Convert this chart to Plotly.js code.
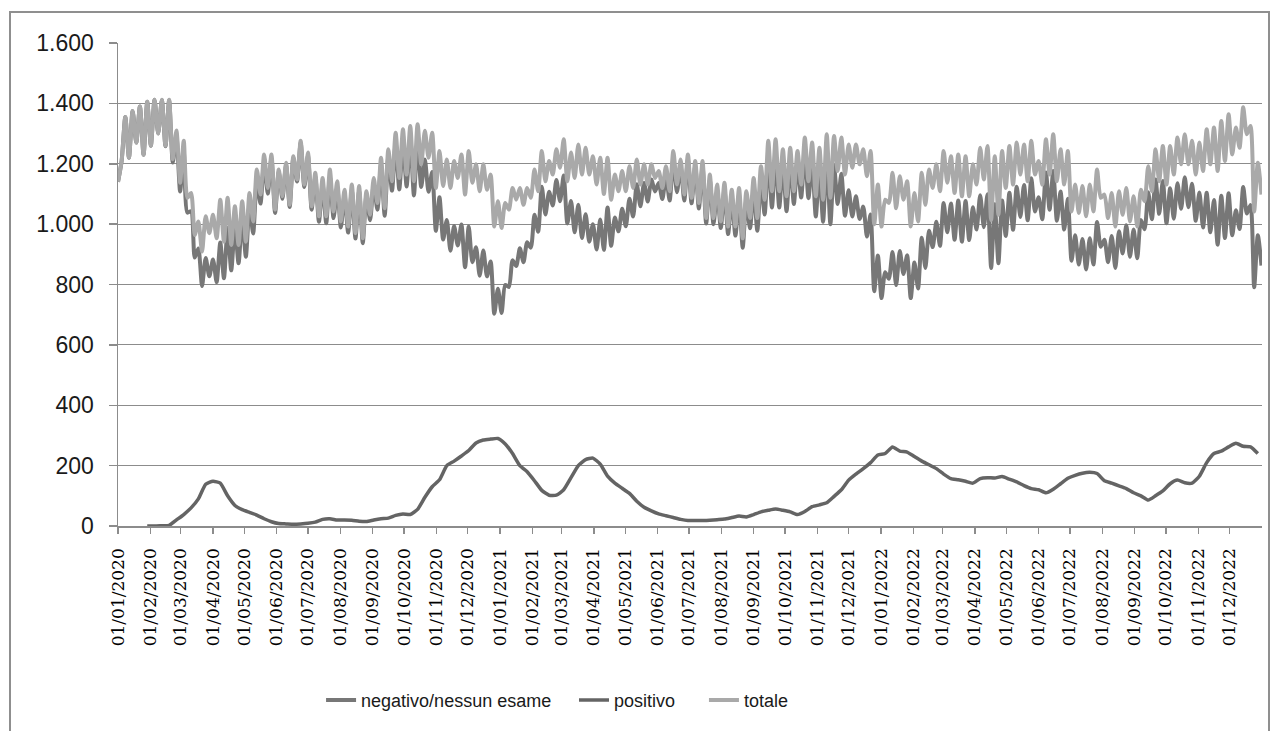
<!DOCTYPE html>
<html><head><meta charset="utf-8">
<script src="https://cdn.plot.ly/plotly-3.0.1.min.js"></script>
<style>
html,body{margin:0;padding:0;background:#fff;overflow:hidden}
#chart{position:absolute;left:0;top:0;width:1277px;height:731px}
#frame{position:absolute;left:9px;top:11px;width:1261px;height:760px;border:2px solid #8f8f8f;box-sizing:border-box;pointer-events:none}
</style>
</head><body>
<div id="chart"></div><div id="frame"></div>
<script>
// sampling: totale & negativo every 3.5 days from 01/01/2020 (weekly high / low), positivo weekly
const seriesStart = '2020-01-01';
const seriesStepDays = 3.5;
const positivoStart = '2020-01-29';
const positivoStepDays = 7;

const totale = [
1140,1210,1355,1220,1375,1270,1390,1230,1405,1260,1412,1300,1412,1260,1412,1215,1310,1137,1276,1087,
1103,964,1009,909,1026,970,1031,953,1081,942,1087,931,1059,931,1076,942,1103,1009,1181,1098,
1231,1120,1231,1048,1181,1092,1203,1064,1225,1148,1276,1131,1237,1059,1170,1026,1153,1026,1181,1042,
1142,1009,1114,992,1131,970,1126,953,1109,1031,1153,1070,1220,1053,1248,1142,1303,1153,1314,1164,
1325,1142,1331,1198,1309,1220,1303,1120,1242,1126,1214,1120,1209,1153,1231,1098,1242,1137,1198,1109,
1198,1114,1164,992,1076,987,1070,1048,1120,1081,1120,1064,1120,1087,1181,1109,1242,1142,1209,1164,
1248,1187,1281,1142,1237,1153,1264,1164,1253,1164,1225,1131,1220,1100,1220,1081,1164,1109,1176,1109,
1192,1120,1214,1131,1198,1131,1198,1153,1176,1120,1192,1109,1242,1131,1214,1098,1231,1087,1209,1070,
1209,1020,1164,1020,1131,1009,1137,992,1114,992,1120,953,1109,1020,1153,1020,1192,1081,1276,1109,
1281,1109,1248,1092,1253,1109,1242,1131,1287,1142,1270,1092,1253,1081,1298,1087,1292,1176,1287,1164,
1264,1187,1264,1198,1248,1159,1242,1000,1131,992,1081,1070,1170,1053,1159,1081,1142,992,1103,1009,
1170,1064,1181,1120,1198,1109,1242,1137,1225,1103,1231,1092,1225,1092,1198,1131,1253,1148,1259,1014,
1225,1031,1242,1120,1259,1131,1270,1164,1264,1142,1276,1164,1209,1131,1281,1164,1298,1142,1248,1131,
1242,1042,1131,1037,1126,1026,1131,1042,1181,1087,1098,1020,1103,992,1109,1031,1120,1009,1092,992,
1114,1076,1192,1109,1248,1142,1259,1131,1259,1164,1287,1198,1298,1198,1276,1164,1270,1176,1314,1198,
1320,1176,1342,1209,1364,1231,1320,1253,1387,1298,1325,1042,1203,1098
];

const negativo = [
1140,1210,1355,1220,1375,1270,1390,1230,1405,1260,1412,1300,1411,1258,1410,1204,1290,1108,1238,1038,
1043,889,919,795,888,827,883,808,939,821,987,847,991,870,1022,892,1058,969,1145,1068,
1207,1101,1217,1037,1173,1084,1196,1057,1219,1141,1269,1123,1228,1048,1157,1008,1131,1003,1157,1020,
1122,989,1094,972,1112,952,1110,937,1094,1013,1133,1048,1196,1028,1222,1111,1268,1115,1274,1125,
1287,1095,1276,1123,1214,1107,1173,978,1089,949,1014,912,994,929,999,857,992,874,923,829,
913,827,876,703,786,706,798,792,880,861,920,874,940,922,1031,975,1124,1032,1107,1062,
1146,1076,1161,1002,1077,973,1064,954,1033,942,1000,916,1015,915,1055,928,1022,976,1051,993,
1084,1025,1132,1059,1136,1075,1148,1108,1136,1083,1158,1078,1214,1106,1192,1078,1213,1069,1191,1052,
1191,1002,1145,1000,1110,987,1114,967,1086,962,1087,922,1079,986,1115,978,1145,1032,1224,1055,
1225,1055,1196,1043,1206,1067,1204,1088,1239,1086,1206,1025,1183,1008,1221,1000,1194,1067,1167,1028,
1112,1025,1092,1017,1058,959,1032,778,896,755,841,819,908,798,911,835,897,755,873,787,
955,855,978,924,1008,928,1070,973,1068,948,1078,942,1077,947,1056,982,1096,990,1099,855,
1066,870,1078,961,1104,981,1124,1024,1130,1013,1152,1042,1089,1016,1171,1048,1176,1011,1108,982,
1084,879,963,866,951,850,953,866,1007,925,948,874,961,855,976,903,996,892,982,887,
1014,983,1106,1016,1148,1034,1143,1003,1119,1018,1135,1051,1155,1056,1134,1011,1105,989,1104,973,
1080,932,1094,954,1102,963,1046,984,1123,1035,1063,791,963,863
];

const positivo = [
0,0,1,2,20,38,60,90,138,148,142,100,68,54,45,36,24,14,8,7,
6,7,9,13,22,24,20,20,19,16,15,20,24,26,35,40,38,55,95,130,
153,200,215,232,250,275,285,288,290,272,240,200,180,150,118,102,102,120,160,200,
220,225,205,165,142,125,108,82,62,50,40,34,28,22,18,18,18,19,21,23,
28,33,30,38,47,52,56,52,47,38,48,64,70,77,98,120,152,172,190,210,
235,240,262,248,245,230,215,203,190,172,157,153,148,142,157,160,159,164,155,146,
134,124,120,110,122,140,158,168,175,178,174,150,142,133,124,110,100,86,100,116,
140,152,143,142,165,210,240,248,262,274,264,262,240
];

const monthLabels = [
'01/01/2020','01/02/2020','01/03/2020','01/04/2020','01/05/2020','01/06/2020',
'01/07/2020','01/08/2020','01/09/2020','01/10/2020','01/11/2020','01/12/2020',
'01/01/2021','01/02/2021','01/03/2021','01/04/2021','01/05/2021','01/06/2021',
'01/07/2021','01/08/2021','01/09/2021','01/10/2021','01/11/2021','01/12/2021',
'01/01/2022','01/02/2022','01/03/2022','01/04/2022','01/05/2022','01/06/2022',
'01/07/2022','01/08/2022','01/09/2022','01/10/2022','01/11/2022','01/12/2022'
];

const seriesNames = ['negativo/nessun esame','positivo','totale'];

function dateAt(startISO, stepDays, i) {
  const t = Date.parse(startISO + 'T00:00:00Z') + i * stepDays * 86400000;
  return new Date(t).toISOString().slice(0, 16).replace('T', ' ');
}
const xHalf = totale.map((_, i) => dateAt(seriesStart, seriesStepDays, i));
const xPos = positivo.map((_, i) => dateAt(positivoStart, positivoStepDays, i));
const tickVals = monthLabels.map(s => { const p = s.split('/'); return p[2] + '-' + p[1] + '-' + p[0]; });

const traces = [
  {x: xHalf, y: negativo, name: seriesNames[0], type: 'scatter', mode: 'lines', legend: 'legend',
   line: {color: '#777777', width: 4, shape: 'spline', smoothing: 0.7}},
  {x: xPos, y: positivo, name: seriesNames[1], type: 'scatter', mode: 'lines', legend: 'legend2',
   line: {color: '#646464', width: 3.5, shape: 'spline', smoothing: 0.5}},
  {x: xHalf, y: totale, name: seriesNames[2], type: 'scatter', mode: 'lines', legend: 'legend3',
   line: {color: '#a9a9a9', width: 4, shape: 'spline', smoothing: 0.7}}
];

const axisGray = '#8c8c8c';
const legendFont = {family: 'Liberation Sans', size: 18, color: '#1a1a1a'};
function legendAt(xp) {
  return {orientation: 'h', x: xp, xanchor: 'left', y: -0.361, yanchor: 'middle',
          font: legendFont, bgcolor: 'rgba(0,0,0,0)'};
}
const layout = {
  width: 1277, height: 731,
  margin: {l: 118, r: 15, t: 43, b: 203, pad: 0},
  paper_bgcolor: '#ffffff', plot_bgcolor: '#ffffff',
  separators: ',.',
  showlegend: true,
  xaxis: {
    type: 'date', range: ['2020-01-01', '2023-01-01'],
    tickmode: 'array', tickvals: tickVals, ticktext: monthLabels,
    tickangle: -90, ticks: 'outside', ticklen: 6, tickwidth: 1.5, tickcolor: axisGray,
    showline: true, linecolor: axisGray, linewidth: 1.5,
    showgrid: false, zeroline: false,
    ticklabelstandoff: 8,
    tickfont: {family: 'DejaVu Serif', size: 17, color: '#000000'}
  },
  yaxis: {
    range: [0, 1600], tick0: 0, dtick: 200, tickformat: ',d',
    ticks: 'outside', ticklen: 8, tickwidth: 1.5, tickcolor: axisGray,
    showline: true, linecolor: axisGray, linewidth: 1.5,
    showgrid: true, gridcolor: axisGray, gridwidth: 1.2, zeroline: false,
    ticklabelstandoff: 10,
    tickfont: {family: 'Liberation Sans', size: 23, color: '#1a1a1a'}
  },
  legend: legendAt(0.1775),
  legend2: legendAt(0.3986),
  legend3: legendAt(0.5122)
};

Plotly.newPlot('chart', traces, layout, {displayModeBar: false, staticPlot: true});
</script>
</body></html>
